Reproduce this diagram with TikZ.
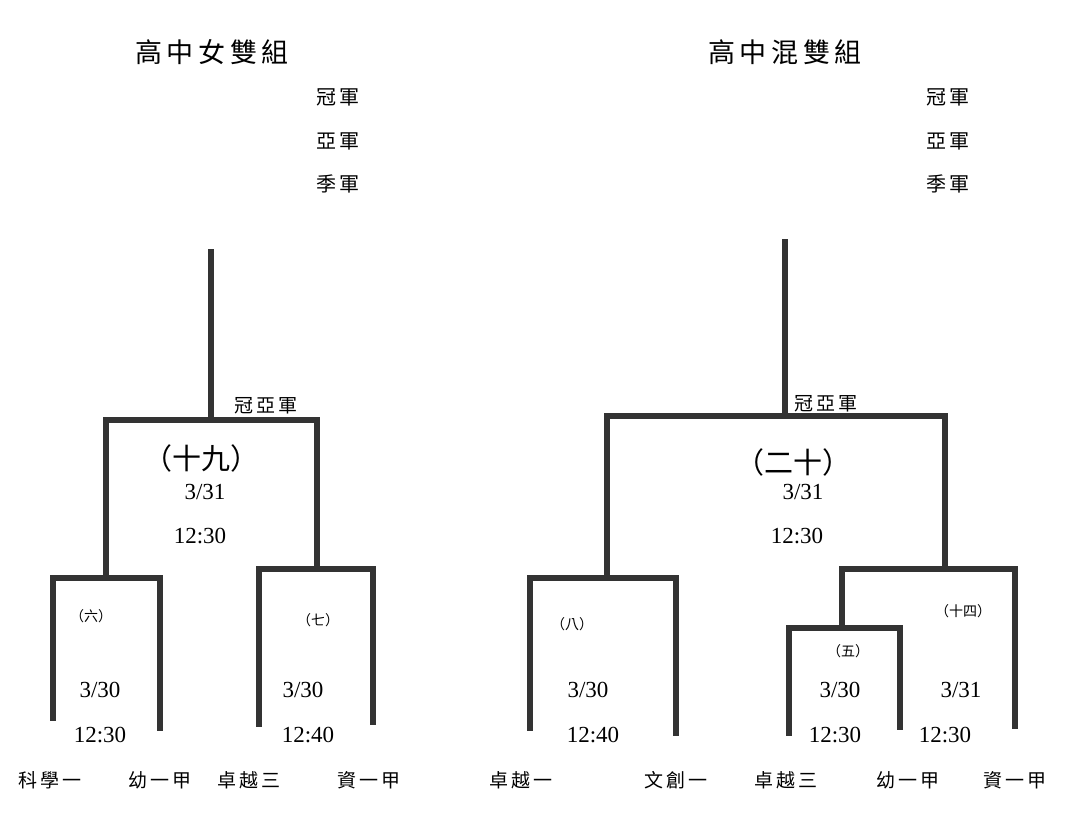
\documentclass[tikz,border=0pt]{standalone}
\usepackage{fontspec}
\setmainfont{Liberation Serif}
\newfontfamily\cjk{Noto Sans CJK TC}
\begin{document}
\begin{tikzpicture}[x=1pt,y=-1pt,
  bar/.style={line width=6.5pt,draw=black!80,line cap=rect,line join=miter},
  title/.style={font=\cjk\fontsize{27}{30}\selectfont},
  rank/.style={font=\cjk\fontsize{20}{22}\selectfont},
  team/.style={font=\cjk\fontsize{19}{21}\selectfont},
  fin/.style={font=\cjk\fontsize{19}{21}\selectfont},
  bignum/.style={font=\cjk\fontsize{29}{31}\selectfont},
  smallnum/.style={font=\cjk\fontsize{14}{16}\selectfont},
  dt/.style={font=\fontsize{23}{25}\selectfont},
  every node/.style={inner sep=0pt}]
\useasboundingbox (0,0) rectangle (1090,813);
\fill[white] (0,0) rectangle (1090,813);

% ---------- left: 高中女雙組 ----------
\node[title] (Lt) at (212,52) {高\,中\,女\,雙\,組};
\node[rank] (Lr1) at (338,97) {冠\,軍};
\node[rank] (Lr2) at (338,141) {亞\,軍};
\node[rank] (Lr3) at (338,184) {季\,軍};

\coordinate (Ltop) at (211,252);
\coordinate (Lf) at (211,420);
\coordinate (Lfl) at (106,420);
\coordinate (Lfr) at (317,420);
\coordinate (Lsix) at (106,575);
\coordinate (Lsev) at (317,566);
\coordinate (L6l) at (53,578);
\coordinate (L6r) at (160,578);
\coordinate (L6a) at (53,718);
\coordinate (L6b) at (160,728);
\coordinate (L7l) at (259,569);
\coordinate (L7r) at (373,569);
\coordinate (L7a) at (259,724);
\coordinate (L7b) at (373,722);

\draw[bar] (Ltop) -- (Lf);
\draw[bar] (Lsix) -- (Lfl) -- (Lfr) -- (Lsev);
\draw[bar] (L6a) -- (L6l) -- (L6r) -- (L6b);
\draw[bar] (L7a) -- (L7l) -- (L7r) -- (L7b);

\node[fin] (Lcy) at (266,406) {冠\,亞\,軍};
\node[bignum] (L19) at (201,458) {（十九）};
\node[dt] (L19d) at (205,492) {3/31};
\node[dt] (L19t) at (200,536) {12:30};
\node[smallnum] (L6n) at (91,616) {（六）};
\node[dt] (L6d) at (100,690) {3/30};
\node[dt] (L6t) at (100,735) {12:30};
\node[smallnum] (L7n) at (318,620) {（七）};
\node[dt] (L7d) at (303,690) {3/30};
\node[dt] (L7t) at (308,735) {12:40};

\node[team] (La) at (50,780) {科\,學\,一};
\node[team] (Lb) at (160,780) {幼\,一\,甲};
\node[team] (Lc) at (249,780) {卓\,越\,三};
\node[team] (Ld) at (369,780) {資\,一\,甲};

% ---------- right: 高中混雙組 ----------
\node[title] (Rt) at (785,52) {高\,中\,混\,雙\,組};
\node[rank] (Rr1) at (948,97) {冠\,軍};
\node[rank] (Rr2) at (948,141) {亞\,軍};
\node[rank] (Rr3) at (948,184) {季\,軍};

\coordinate (Rtop) at (785,242);
\coordinate (Rf) at (785,416);
\coordinate (Rfl) at (607,416);
\coordinate (Rfr) at (945,416);
\coordinate (Reig) at (607,575);
\coordinate (Rfour) at (945,565);
\coordinate (R8l) at (530,578);
\coordinate (R8r) at (676,578);
\coordinate (R8a) at (530,728);
\coordinate (R8b) at (676,733);
\coordinate (R14l) at (842,569);
\coordinate (R14r) at (1015,569);
\coordinate (R14a) at (842,628);
\coordinate (R14b) at (1015,726);
\coordinate (R5l) at (789,628);
\coordinate (R5r) at (900,628);
\coordinate (R5a) at (789,733);
\coordinate (R5b) at (900,727);

\draw[bar] (Rtop) -- (Rf);
\draw[bar] (Reig) -- (Rfl) -- (Rfr) -- (Rfour);
\draw[bar] (R8a) -- (R8l) -- (R8r) -- (R8b);
\draw[bar] (R14a) -- (R14l) -- (R14r) -- (R14b);
\draw[bar] (R5a) -- (R5l) -- (R5r) -- (R5b);

\node[fin] (Rcy) at (826,404) {冠\,亞\,軍};
\node[bignum] (R20) at (793,462) {（二十）};
\node[dt] (R20d) at (803,492) {3/31};
\node[dt] (R20t) at (797,536) {12:30};
\node[smallnum] (R8n) at (572,624) {（八）};
\node[dt] (R8d) at (588,690) {3/30};
\node[dt] (R8t) at (593,735) {12:40};
\node[smallnum] (R5n) at (848,651) {（五）};
\node[dt] (R5d) at (840,690) {3/30};
\node[dt] (R5t) at (835,735) {12:30};
\node[smallnum] (R14n) at (963,611) {（十四）};
\node[dt] (R14d) at (961,690) {3/31};
\node[dt] (R14t) at (945,735) {12:30};

\node[team] (Ra) at (521,780) {卓\,越\,一};
\node[team] (Rb) at (676,780) {文\,創\,一};
\node[team] (Rc) at (786,780) {卓\,越\,三};
\node[team] (Rd) at (908,780) {幼\,一\,甲};
\node[team] (Re) at (1015,780) {資\,一\,甲};
\end{tikzpicture}
\end{document}
